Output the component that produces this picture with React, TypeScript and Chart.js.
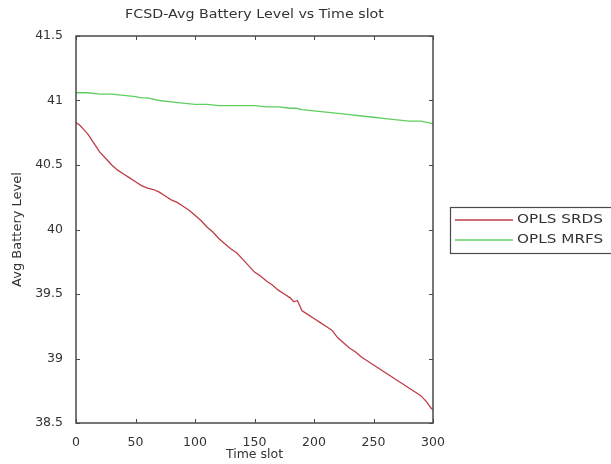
import React, { useEffect, useRef } from "react";
import { Chart, registerables } from "chart.js";

Chart.register(...registerables);

const chartTitle = "FCSD-Avg Battery Level vs Time slot";
const xAxisTitle = "Time slot";
const yAxisTitle = "Avg Battery Level";
const seriesNames = ["OPLS SRDS", "OPLS MRFS"];
const seriesColors = ["rgb(190, 60, 72)", "rgb(96, 206, 96)"];

const xTicks = [0, 50, 100, 150, 200, 250, 300];
const yTicks = [38.5, 39, 39.5, 40, 40.5, 41, 41.5];

const srdsX = [0, 3, 6, 10, 15, 20, 25, 30, 35, 40, 45, 50, 55, 60, 65, 70, 75, 80, 85, 90, 95, 100, 105, 110, 115, 120, 125, 130, 135, 140, 145, 150, 155, 160, 165, 170, 175, 180, 183, 186, 190, 195, 200, 205, 210, 215, 220, 225, 230, 235, 240, 245, 250, 255, 260, 265, 270, 275, 280, 285, 290, 295, 298, 300];
const srdsY = [40.83, 40.81, 40.78, 40.74, 40.67, 40.6, 40.55, 40.5, 40.46, 40.43, 40.4, 40.37, 40.34, 40.32, 40.31, 40.29, 40.26, 40.23, 40.21, 40.18, 40.15, 40.11, 40.07, 40.02, 39.98, 39.93, 39.89, 39.85, 39.82, 39.77, 39.72, 39.67, 39.64, 39.6, 39.57, 39.53, 39.5, 39.47, 39.44, 39.45, 39.37, 39.34, 39.31, 39.28, 39.25, 39.22, 39.16, 39.12, 39.08, 39.05, 39.01, 38.98, 38.95, 38.92, 38.89, 38.86, 38.83, 38.8, 38.77, 38.74, 38.71, 38.66, 38.62, 38.6];

const mrfsX = [0, 10, 20, 30, 40, 50, 55, 60, 70, 80, 90, 100, 110, 120, 130, 140, 150, 160, 170, 180, 185, 190, 200, 210, 220, 230, 240, 250, 260, 270, 280, 290, 300];
const mrfsY = [41.06, 41.06, 41.05, 41.05, 41.04, 41.03, 41.02, 41.02, 41.0, 40.99, 40.98, 40.97, 40.97, 40.96, 40.96, 40.96, 40.96, 40.95, 40.95, 40.94, 40.94, 40.93, 40.92, 40.91, 40.9, 40.89, 40.88, 40.87, 40.86, 40.85, 40.84, 40.84, 40.82];

const FONT = "'DejaVu Sans', 'Liberation Sans', Arial, sans-serif";
const AXIS_COLOR = "#4a4a4a";
const TEXT_COLOR = "#333333";

function stretchedText(ctx: any, text: string, x: number, y: number, sx: number, align: string) {
  ctx.save();
  ctx.translate(x, y);
  ctx.scale(sx, 1);
  ctx.textAlign = align;
  ctx.textBaseline = "middle";
  ctx.fillText(text, 0, 0);
  ctx.restore();
}

const frame = {
  id: "matlabFrame",
  afterDatasetsDraw(chart: any) {
    const { ctx, chartArea } = chart;
    const { left, right, top, bottom } = chartArea;
    const xs = chart.scales.x;
    const ys = chart.scales.y;
    ctx.save();
    ctx.strokeStyle = AXIS_COLOR;
    ctx.lineWidth = 1.5;
    ctx.strokeRect(left, top, right - left, bottom - top);
    ctx.lineWidth = 1;
    const tl = 4;
    ctx.beginPath();
    xTicks.forEach((v) => {
      const px = Math.round(xs.getPixelForValue(v)) + 0.5;
      ctx.moveTo(px, bottom);
      ctx.lineTo(px, bottom - tl);
      ctx.moveTo(px, top);
      ctx.lineTo(px, top + tl);
    });
    yTicks.forEach((v) => {
      const py = Math.round(ys.getPixelForValue(v)) + 0.5;
      ctx.moveTo(left, py);
      ctx.lineTo(left + tl, py);
      ctx.moveTo(right, py);
      ctx.lineTo(right - tl, py);
    });
    ctx.stroke();

    // title
    ctx.fillStyle = TEXT_COLOR;
    ctx.font = `12.5px ${FONT}`;
    stretchedText(ctx, chartTitle, (left + right) / 2, 15, 1.14, "center");

    // legend
    const lx = 450;
    const ly = 207;
    const lw = 170;
    const lh = 46;
    ctx.fillStyle = "#ffffff";
    ctx.fillRect(lx, ly, lw, lh);
    ctx.strokeStyle = AXIS_COLOR;
    ctx.lineWidth = 1.2;
    ctx.strokeRect(lx + 0.5, ly + 0.5, lw, lh);
    const rows = [220, 240];
    seriesNames.forEach((name, i) => {
      ctx.strokeStyle = seriesColors[i];
      ctx.lineWidth = 1.3;
      ctx.beginPath();
      ctx.moveTo(455, rows[i]);
      ctx.lineTo(513, rows[i]);
      ctx.stroke();
      ctx.fillStyle = TEXT_COLOR;
      ctx.font = `12.5px ${FONT}`;
      stretchedText(ctx, name, 517, rows[i], 1.22, "left");
    });
    ctx.restore();
  },
};

const whiteBg = {
  id: "whiteBg",
  beforeDraw(chart: any) {
    const { ctx, width, height } = chart;
    ctx.save();
    ctx.fillStyle = "#ffffff";
    ctx.fillRect(0, 0, width, height);
    ctx.restore();
  },
};

export default function App() {
  const ref = useRef<HTMLCanvasElement | null>(null);

  useEffect(() => {
    if (!ref.current) return;
    const chart = new Chart(ref.current, {
      type: "line",
      data: {
        datasets: [
          {
            label: seriesNames[0],
            data: srdsX.map((x, i) => ({ x, y: srdsY[i] })),
            borderColor: seriesColors[0],
            borderWidth: 1.3,
            pointRadius: 0,
            tension: 0,
            fill: false,
          },
          {
            label: seriesNames[1],
            data: mrfsX.map((x, i) => ({ x, y: mrfsY[i] })),
            borderColor: seriesColors[1],
            borderWidth: 1.3,
            pointRadius: 0,
            tension: 0,
            fill: false,
          },
        ],
      },
      options: {
        responsive: false,
        animation: false,
        layout: { padding: { top: 36, right: 178, left: 0, bottom: 0 } },
        plugins: {
          legend: { display: false },
          title: { display: false },
          tooltip: { enabled: false },
        },
        scales: {
          x: {
            type: "linear",
            min: 0,
            max: 300,
            afterBuildTicks: (s: any) => {
              s.ticks = xTicks.map((v) => ({ value: v }));
            },
            afterFit: (s: any) => {
              s.height = 41;
            },
            grid: { display: false },
            border: { display: false },
            ticks: {
              padding: 4,
              maxRotation: 0,
              color: TEXT_COLOR,
              font: { family: FONT, size: 12.5 },
              callback: (v: any) => String(v),
            },
            title: {
              display: true,
              text: xAxisTitle,
              color: TEXT_COLOR,
              font: { family: FONT, size: 12.5 },
              padding: { top: 0, bottom: 2 },
            },
          },
          y: {
            type: "linear",
            min: 38.5,
            max: 41.5,
            afterBuildTicks: (s: any) => {
              s.ticks = yTicks.map((v) => ({ value: v }));
            },
            afterFit: (s: any) => {
              s.width = 76;
            },
            grid: { display: false },
            border: { display: false },
            ticks: {
              padding: 5,
              color: TEXT_COLOR,
              font: { family: FONT, size: 12.5 },
              callback: (v: any) => String(v),
            },
            title: {
              display: true,
              text: yAxisTitle,
              color: TEXT_COLOR,
              font: { family: FONT, size: 13 },
              padding: { top: 10, bottom: 0 },
            },
          },
        },
      },
      plugins: [whiteBg, frame],
    });
    return () => chart.destroy();
  }, []);

  return (
    <div style={{ position: "absolute", left: 0, top: 0, width: 611, height: 464, background: "#fff" }}>
      <canvas ref={ref} width={611} height={464} style={{ display: "block", width: 611, height: 464 }} />
    </div>
  );
}
